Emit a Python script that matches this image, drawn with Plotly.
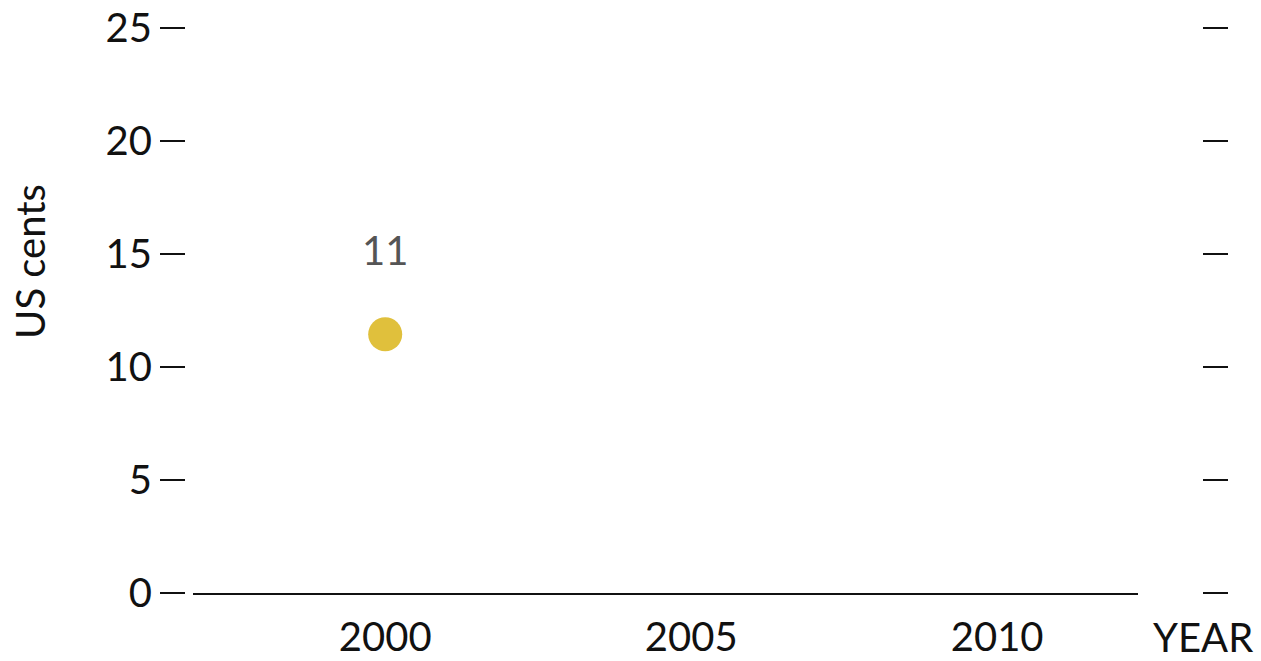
import plotly.graph_objects as go

# Data
years = [2000]
cents = [11.45]
x_tick_vals = [2000, 2005, 2010]
x_tick_text = ["2000", "2005", "2010"]
y_tick_vals = [0, 5, 10, 15, 20, 25]
y_tick_text = ["0", "5", "10", "15", "20", "25"]

W, H = 1261, 661
FONT = "Lato, Calibri, Open Sans, sans-serif"

fig = go.Figure()

fig.add_trace(go.Scatter(
    x=years, y=cents, mode="markers",
    marker=dict(size=34, color="#E0C03C", line=dict(width=0)),
    hoverinfo="skip", showlegend=False,
))

# Value label above the point
for xv, yv in zip(years, cents):
    fig.add_annotation(
        x=xv, y=yv, xref="x", yref="y",
        text=f"{yv:.0f}", showarrow=False, yshift=84,
        font=dict(family=FONT, size=40, color="#555555"),
    )

# Invisible trace to carry the right-hand tick marks
fig.add_trace(go.Scatter(
    x=years, y=cents, yaxis="y2", mode="markers",
    marker=dict(opacity=0), hoverinfo="skip", showlegend=False,
))

fig.update_layout(
    width=W, height=H,
    margin=dict(l=185, r=59, t=28, b=68, autoexpand=False),
    paper_bgcolor="white", plot_bgcolor="white",
    font=dict(family=FONT, size=40, color="#111111"),
    xaxis=dict(
        domain=[0.0079, 0.937],
        range=[1996.86, 2012.3],
        tickvals=x_tick_vals, ticktext=x_tick_text,
        ticks="", showgrid=False, zeroline=False,
        showline=True, linecolor="#111111", linewidth=2,
        ticklabelstandoff=8, automargin=False,
        anchor="y",
    ),
    yaxis=dict(
        range=[0, 25],
        tickvals=y_tick_vals, ticktext=y_tick_text,
        ticks="outside", ticklen=25, tickwidth=2, tickcolor="#111111",
        showgrid=False, zeroline=False, showline=False,
        anchor="free", position=0,
        ticklabelstandoff=0, automargin=False,
    ),
    yaxis2=dict(
        range=[0, 25], overlaying="y",
        tickvals=y_tick_vals, showticklabels=False,
        ticks="outside", ticklen=25, tickwidth=2, tickcolor="#111111",
        showgrid=False, zeroline=False, showline=False,
        anchor="free", position=1, side="right", automargin=False,
    ),
)

fig.add_annotation(
    x=(1203 - 185) / 1017, y=(593 - 637) / 565, xref="paper", yref="paper",
    text="YEAR", showarrow=False, xanchor="center", yanchor="middle",
    font=dict(family=FONT, size=40, color="#111111"),
)
fig.add_annotation(
    x=(30 - 185) / 1017, y=(593 - 262) / 565, xref="paper", yref="paper",
    text="US cents", showarrow=False, textangle=-90,
    xanchor="center", yanchor="middle",
    font=dict(family=FONT, size=40, color="#111111"),
)

fig.write_html("out.html")
